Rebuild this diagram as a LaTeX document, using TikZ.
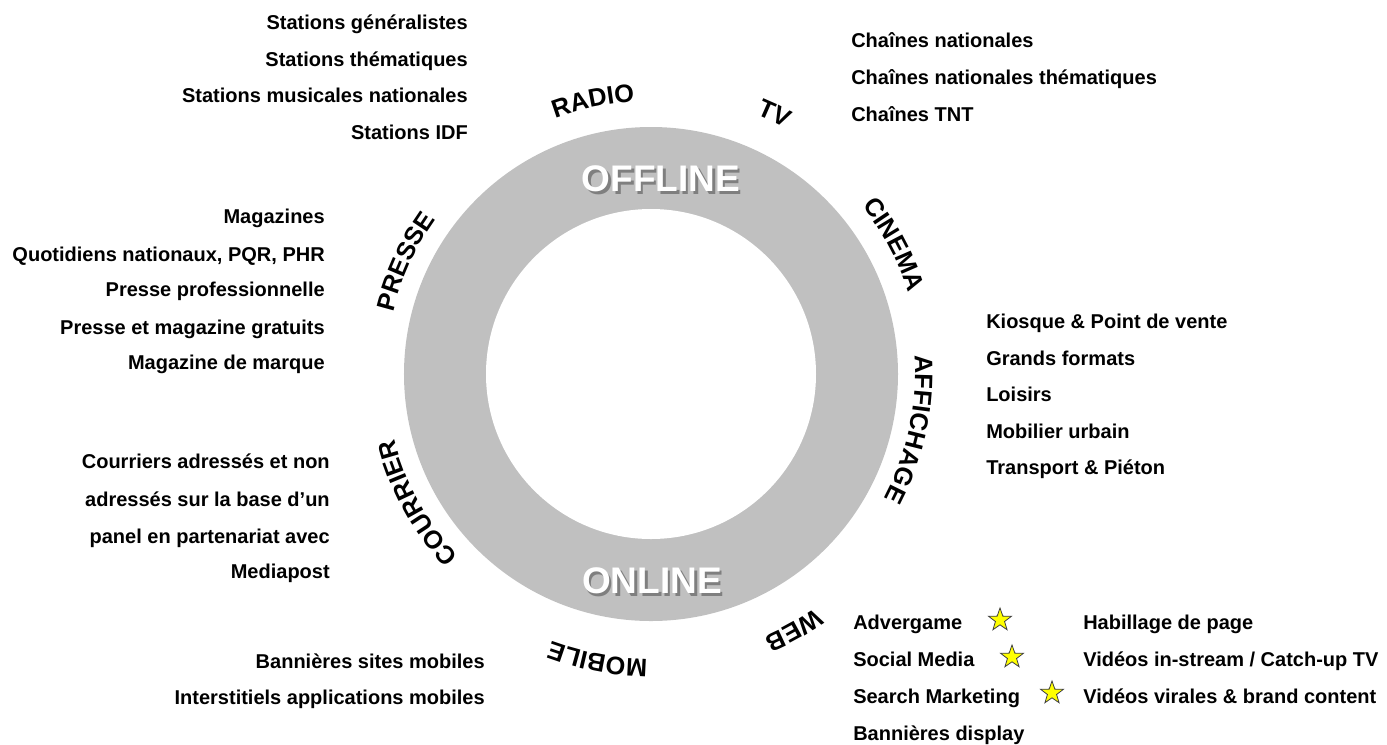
\documentclass[tikz,border=0pt]{standalone}
\usepackage{fontspec}
\setmainfont{Liberation Sans}
\usetikzlibrary{shapes.geometric,decorations.text}

\definecolor{ringgray}{RGB}{192,192,192}
\definecolor{staryellow}{RGB}{255,255,0}
\newcommand{\listfont}{\fontsize{15}{18}\selectfont\bfseries}
\newcommand{\ringfont}{\fontsize{19}{22}\selectfont\bfseries}
\newcommand{\bigfont}{\fontsize{27.75}{30}\selectfont\bfseries}

\tikzset{
  item/.style={font=\listfont, inner sep=0pt, text height=10pt, text depth=0pt},
  lft/.style={item, anchor=west},
  rgt/.style={item, anchor=east},
  bigtext/.style={font=\bigfont, inner sep=0pt, text height=20pt, text depth=0pt, text=white},
  bigshadow/.style={bigtext, text=black!75, opacity=0.5},
  starmark/.style={star, star points=5, star point ratio=2.5, minimum size=18pt, inner sep=0pt,
    draw=black!75, line width=0.6pt, fill=staryellow},
  ringlabel/.style={decorate, decoration={text along path, text align=center, text={|\ringfont|#1}}}
}

\begin{document}
\begin{tikzpicture}[x=0.75pt,y=0.75pt]
\useasboundingbox (-651,-370) rectangle (736,374);
\coordinate (c) at (0,0);
% ring
\fill[ringgray] (c) circle (247);
\fill[white] (c) circle (165);
\node[bigshadow] (offshadow) at (12.5,193) {OFFLINE};
\node[bigtext] (offline) at (10,196) {OFFLINE};
\node[bigshadow] (onshadow) at (3.5,-209) {ONLINE};
\node[bigtext] (online) at (1,-206) {ONLINE};

% labels round the ring
\path[ringlabel=RADIO] (132:273) arc[start angle=132, end angle=72, radius=273];
\path[ringlabel=TV] (94.6:280) arc[start angle=94.6, end angle=34.6, radius=280];
\path[ringlabel=CINEMA] (58:270) arc[start angle=58, end angle=-2, radius=270];
\path[ringlabel=AFFICHAGE] (23:264) arc[start angle=23, end angle=-47, radius=264];
\path[ringlabel=WEB] (-30.8:286) arc[start angle=-30.8, end angle=-90.8, radius=286];
\path[ringlabel=MOBILE] (289.4:285) arc[start angle=289.4, end angle=229.4, radius=285];
\path[ringlabel=COURRIER] (243.8:265) arc[start angle=243.8, end angle=173.8, radius=265];
\path[ringlabel=PRESSE] (185.4:265) arc[start angle=185.4, end angle=125.4, radius=265];

% radio
\node[rgt] (radio1) at (-183,351) {Stations généralistes};
\node[rgt] (radio2) at (-183,314) {Stations thématiques};
\node[rgt] (radio3) at (-183,278) {Stations musicales nationales};
\node[rgt] (radio4) at (-183,241) {Stations IDF};
% tv
\node[lft] (tv1) at (200,333) {Chaînes nationales};
\node[lft] (tv2) at (200,296) {Chaînes nationales thématiques};
\node[lft] (tv3) at (200,259) {Chaînes TNT};
% presse
\node[rgt] (presse1) at (-326,157) {Magazines};
\node[rgt] (presse2) at (-326,119) {Quotidiens nationaux, PQR, PHR};
\node[rgt] (presse3) at (-326,84) {Presse professionnelle};
\node[rgt] (presse4) at (-326,46) {Presse et magazine gratuits};
\node[rgt] (presse5) at (-326,11) {Magazine de marque};
% affichage
\node[lft] (aff1) at (335,52) {Kiosque \& Point de vente};
\node[lft] (aff2) at (335,15) {Grands formats};
\node[lft] (aff3) at (335,-21) {Loisirs};
\node[lft] (aff4) at (335,-58) {Mobilier urbain};
\node[lft] (aff5) at (335,-94) {Transport \& Piéton};
% courrier
\node[rgt] (cour1) at (-321,-88) {Courriers adressés et non};
\node[rgt] (cour2) at (-321,-126) {adressés sur la base d’un};
\node[rgt] (cour3) at (-321,-163) {panel en partenariat avec};
\node[rgt] (cour4) at (-321,-198) {Mediapost};
% mobile
\node[rgt] (mob1) at (-166,-288) {Bannières sites mobiles};
\node[rgt] (mob2) at (-166,-324) {Interstitiels applications mobiles};
% web
\node[lft] (web1) at (202,-249) {Advergame};
\node[lft] (web2) at (202,-286) {Social Media};
\node[lft] (web3) at (202,-323) {Search Marketing};
\node[lft] (web4) at (202,-360) {Bannières display};
\node[starmark] (star1) at (349,-246) {};
\node[starmark] (star2) at (361,-283) {};
\node[starmark] (star3) at (401,-319) {};
\node[lft] (web5) at (432,-249) {Habillage de page};
\node[lft] (web6) at (432,-286) {Vidéos in-stream / Catch-up TV};
\node[lft] (web7) at (432,-323) {Vidéos virales \& brand content};

\end{tikzpicture}
\end{document}
